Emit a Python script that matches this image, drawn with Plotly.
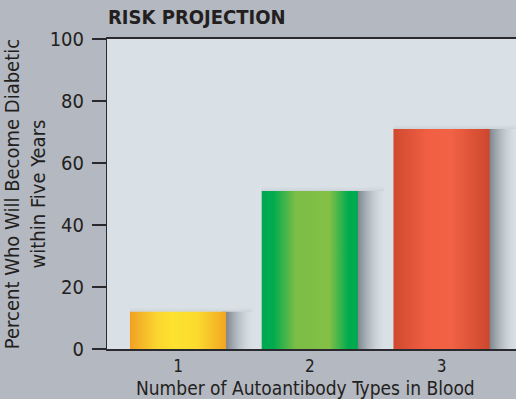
import plotly.graph_objects as go

# ---- data ----
categories = ["1", "2", "3"]
values = [12, 51, 71]
title_text = "RISK PROJECTION"
x_title = "Number of Autoantibody Types in Blood"
y_title = "Percent Who Will Become Diabetic<br>within Five Years"
y_ticks = [0, 20, 40, 60, 80, 100]

# ---- styles ----
bar_scales = [
    [[0, "#efa024"], [0.28, "#fbd52f"], [0.45, "#fde22f"], [0.7, "#fbdb2e"], [1, "#f2a623"]],
    [[0, "#00a84f"], [0.12, "#00ab4f"], [0.35, "#7bbd46"], [0.7, "#84c045"], [0.9, "#00ac50"], [1, "#00a94f"]],
    [[0, "#cf492f"], [0.35, "#f15f43"], [0.6, "#f26244"], [1, "#cc472d"]],
]
bar_width = 0.73
shadow_width = 0.2
FONT = "'DejaVu Sans Condensed', 'Liberation Sans Narrow', 'DejaVu Sans', sans-serif"
TXT = "#231f20"

fig = go.Figure()
xpos = list(range(1, len(categories) + 1))

# soft shadows
for xc, v in zip(xpos, values):
    x0 = xc + bar_width / 2
    x1 = x0 + shadow_width
    fig.add_trace(go.Scatter(
        x=[x0 - 0.03, x0 - 0.03, x1, x1, x0 - 0.03], y=[0, v, v, 0, 0],
        mode="lines", line=dict(width=0), fill="toself",
        fillgradient=dict(type="horizontal", start=x0, stop=x1,
                          colorscale=[[0, "rgba(85,93,103,0.7)"], [0.45, "rgba(115,123,133,0.35)"], [1, "rgba(170,178,186,0)"]]),
        hoverinfo="skip", showlegend=False))
    xl = xc - bar_width / 2
    fig.add_trace(go.Scatter(
        x=[xl, xl, x1, x1, xl], y=[v, v + 1.6, v + 1.6, v, v],
        mode="lines", line=dict(width=0), fill="toself",
        fillgradient=dict(type="vertical", start=v, stop=v + 1.6,
                          colorscale=[[0, "rgba(120,128,138,0.15)"], [1, "rgba(170,178,186,0)"]]),
        hoverinfo="skip", showlegend=False))

# bars
for xc, v, cs in zip(xpos, values, bar_scales):
    x0 = xc - bar_width / 2
    x1 = xc + bar_width / 2
    fig.add_trace(go.Scatter(
        x=[x0, x0, x1, x1, x0], y=[0, v, v, 0, 0],
        mode="lines", line=dict(width=0), fill="toself",
        fillgradient=dict(type="horizontal", start=x0, stop=x1, colorscale=cs),
        hoverinfo="skip", showlegend=False))

fig.update_layout(
    width=516, height=399,
    margin=dict(l=107, r=0, t=39, b=50),
    paper_bgcolor="#b4b8c1",
    plot_bgcolor="#dae1e6",
    font=dict(family=FONT, color=TXT, size=17),
    showlegend=False,
    title=dict(text="<b>" + title_text + "</b>", x=108 / 516, xanchor="left",
               y=1 - 17 / 399, yanchor="middle",
               font=dict(family=FONT, size=20, color=TXT)),
)
# x-axis title placed as a paper annotation below the tick labels
fig.add_annotation(text=x_title, xref="paper", yref="paper", x=0.485, y=-39 / 310,
                   xanchor="center", yanchor="middle", showarrow=False,
                   font=dict(family=FONT, size=19, color=TXT))
fig.update_xaxes(
    range=[0.461, 3.565], tickvals=xpos, ticktext=categories,
    showgrid=False, zeroline=False, showline=True, linecolor="#2a2a2e", linewidth=2,
    mirror=True, ticks="outside", ticklen=1, tickcolor="rgba(0,0,0,0)",
    tickfont=dict(size=17, color=TXT),
)
fig.update_yaxes(
    range=[0, 100], tickvals=y_ticks, showgrid=False, zeroline=False,
    showline=True, linecolor="#2a2a2e", linewidth=1,
    ticks="outside", ticklen=14, tickwidth=1.5, tickcolor="#2a2a2e",
    tickfont=dict(size=20, color=TXT), ticklabelstandoff=4,
    title=dict(text=y_title, font=dict(size=20, color=TXT), standoff=5),
)

fig.write_html("out.html", config={"displayModeBar": False},
               post_script="document.body.style.margin='0';document.body.style.overflow='hidden';")
